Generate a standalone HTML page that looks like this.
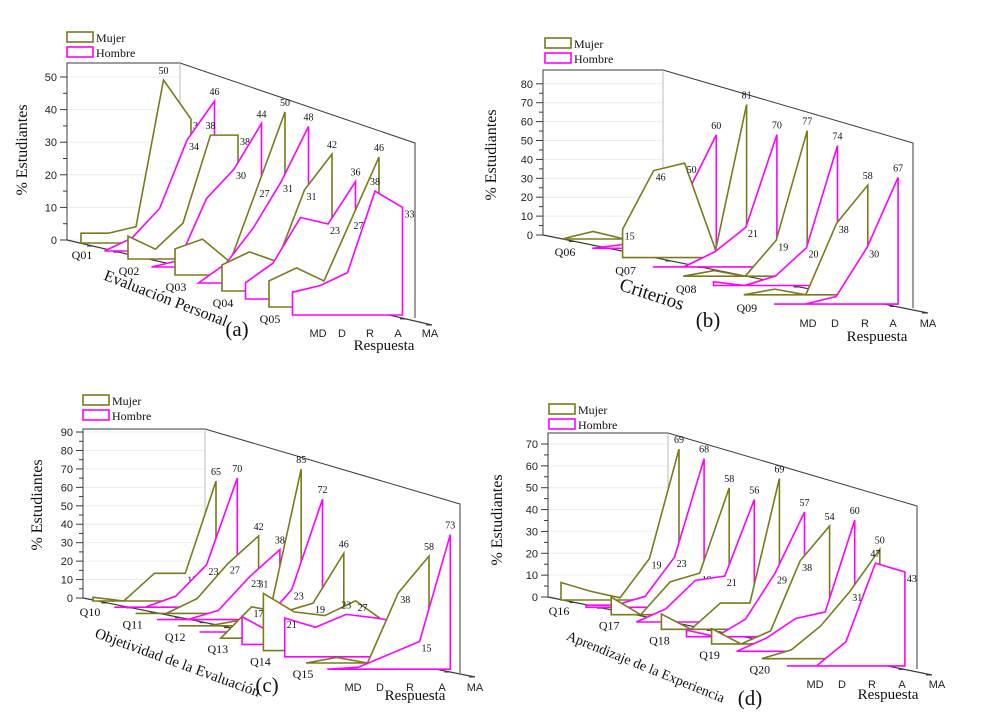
<!DOCTYPE html>
<html><head><meta charset="utf-8"><style>
html,body{margin:0;padding:0;background:#fff}
svg{display:block}
.tk{font-family:"Liberation Sans",sans-serif;font-size:11px;fill:#222}
.sf{font-family:"Liberation Serif",serif;fill:#111}
</style></head><body>
<svg id="c" width="983" height="720" viewBox="0 0 983 720" xmlns="http://www.w3.org/2000/svg"></svg>
<script>
// ---------- Panel (a) data ----------
const aCats=['Q01','Q02','Q03','Q04','Q05'];
const aMujer=[[3,3,5,50,38],[7,3,11,38,38],[8,11,4,27,50],[8,12,9,31,42],[8,12,8,27,46]];
const aHombre=[[0,4,13,34,46],[0,2,21,30,44],[0,6,17,31,48],[5,11,25,23,36],[7,9,13,38,33]];
const aMujerLbl=[[3,4],[3,4],[3,4],[3,4],[3,4]];
const aHombreLbl=[[3,4],[3,4],[3,4],[3,4],[3,4]];
// ---------- Panel (b) data ----------
const bCats=['Q06','Q07','Q08','Q09'];
const bMujer=[[0,4,0,0,0],[15,46,50,4,81],[0,3,0,19,77],[0,3,0,38,58]];
const bHombre=[[0,2,10,27,60],[0,0,8,21,70],[2,0,5,20,74],[0,0,4,30,67]];
const bMujerLbl=[[],[0,1,2,3,4],[3,4],[3,4]];
const bHombreLbl=[[4],[3,4],[3,4],[3,4]];
// ---------- Panel (c) data ----------
const cCats=['Q10','Q11','Q12','Q13','Q14','Q15'];
const cMujer=[[2,0,15,15,65],[0,0,8,27,42],[0,0,3,9,85],[0,17,14,19,46],[31,21,19,27,15],[0,3,0,38,58]];
const cHombre=[[0,0,6,23,70],[0,0,5,23,38],[0,0,4,23,72],[15,6,4,4,4],[21,16,23,21,18],[0,1,8,15,73]];
const cMujerLbl=[[3,4],[3,4],[4],[1,3,4],[0,3],[3,4]];
const cHombreLbl=[[3,4],[3,4],[3,4],[],[0,2],[3,4]];
// ---------- Panel (d) data ----------
const dCats=['Q16','Q17','Q18','Q19','Q20'];
const dMujer=[[8,4,1,19,69],[8,0,15,19,58],[7,0,12,12,69],[7,0,6,38,54],[0,4,15,31,50]];
const dHombre=[[1,1,5,23,68],[0,6,19,21,56],[3,0,8,29,57],[0,6,15,18,60],[0,0,11,47,43]];
const dMujerLbl=[[3,4],[3,4],[3,4],[3,4],[3,4]];
const dHombreLbl=[[3,4],[3,4],[3,4],[3,4],[3,4]];
const resp=['MD','D','R','A','MA'];

const svg=document.getElementById('c');
const NS='http://www.w3.org/2000/svg';
function mk(tag,attrs,parent,text){const e=document.createElementNS(NS,tag);for(const k in attrs)e.setAttribute(k,attrs[k]);if(text!==undefined)e.textContent=text;(parent||svg).appendChild(e);return e;}

const OLIVE='#7a7a1c',MAG='#ff00ff',FR='#3a3a3a';

function panel(id,cats,mujer,hombre,mLbl,hLbl,G){
  const g=mk('g',{});
  
  
  for(let v=0;v<=G.max;v+=G.step){
    const y=G.y0-v*G.k;
    const gl=mk('line',{x1:G.wallX,y1:y,x2:G.topEnd,y2:y,stroke:'#ececec','stroke-width':1},g);
    
    
  }
  const fr=mk('path',{d:`M${G.wallX},${G.y0} L${G.wallX},${G.wallTop} L${G.topEnd},${G.wallTop} L${G.diagEnd[0]},${G.diagEnd[1]} L${G.diagEnd[0]},${G.rightBottom}`,fill:'none',stroke:FR,'stroke-width':1},g);
  
  
  const fr2=mk('line',{x1:G.topEnd,y1:G.wallTop,x2:G.topEnd,y2:G.y0,stroke:'#bbb','stroke-width':1},g);
  
  
  for(let v=0;v<=G.max;v+=G.step){
    const y=G.y0-v*G.k;
    const t=mk('line',{x1:G.wallX-7,y1:y,x2:G.wallX,y2:y,stroke:FR,'stroke-width':1},g);
    
    
    if(v+G.step/2<=G.max){const y2=G.y0-(v+G.step/2)*G.k;
      const m=mk('line',{x1:G.wallX-4,y1:y2,x2:G.wallX,y2:y2,stroke:FR,'stroke-width':1},g);
      
      }
    const tl=mk('text',{x:G.wallX-10,y:y+4,'text-anchor':'end',class:'tk'},g,String(v));
    
    
  }
  const n=cats.length*2;
  const P=(s,r,v)=>[G.p0[0]+s*G.dS[0]+r*G.dR,G.p0[1]+s*G.dS[1]-v*G.k];
  const fa=mk('line',{x1:G.wallX,y1:G.y0,x2:G.floorEnd[0],y2:G.floorEnd[1],stroke:FR,'stroke-width':1.2},g);
  
  
  for(let i=0;i<=n+4;i++){
    const f=i/(n+4);const x=G.wallX+(G.floorEnd[0]-G.wallX)*f,y=G.y0+(G.floorEnd[1]-G.y0)*f;
    const t=mk('line',{x1:x,y1:y,x2:x-6,y2:y,stroke:FR,'stroke-width':1},g);
    
    
  }
  for(let s=0;s<n;s++){
    const q=Math.floor(s/2),isM=s%2===0;
    const vals=isM?mujer[q]:hombre[q];const lbl=isM?mLbl[q]:hLbl[q];
    const pts=[P(s,0,0)];vals.forEach((v,r)=>pts.push(P(s,r,v)));pts.push(P(s,4,0));
    const poly=mk('polygon',{points:pts.map(p=>p.join(',')).join(' '),fill:'#fff',stroke:isM?OLIVE:MAG,'stroke-width':1.6,'stroke-linejoin':'miter'},g);
    
    
    const mx=Math.max(...vals);
    lbl.forEach(r=>{const p=P(s,r,vals[r]);const v=vals[r];const txt=v<10?'0'+v:String(v);
      let t;
      if(v===mx&&r===vals.indexOf(mx)) t=mk('text',{x:p[0],y:p[1]-6,'text-anchor':'middle',class:'sf','font-size':'10'},g,txt);
      else t=mk('text',{x:p[0]+2,y:p[1]+10,'text-anchor':'start',class:'sf','font-size':'10'},g,txt);
      
      
    });
  }
  cats.forEach((c,q)=>{const p=P(2*q,0,0);
    const t=mk('text',{x:p[0]+G.qOff[0],y:p[1]+G.qOff[1]+4,'text-anchor':'middle',class:'sf','font-size':'12'},g,c);
    
    });
  resp.forEach((r,i)=>{const t=mk('text',{x:G.respX[i],y:G.respY,'text-anchor':'middle',class:'tk','font-size':'11'},g,r);
    
    });
  const rt=mk('text',{x:G.respT[0],y:G.respT[1],'text-anchor':'middle',class:'sf','font-size':'15'},g,'Respuesta');
  
  
  const yt=mk('text',{x:0,y:0,'text-anchor':'middle',class:'sf','font-size':'16',transform:`translate(${G.yT[0]},${G.yT[1]}) rotate(-90)`},g,'% Estudiantes');
  
  
  const dt=mk('text',{x:0,y:0,'text-anchor':'middle',class:'sf','font-size':G.dT[3],transform:`translate(${G.dT[0]},${G.dT[1]}) rotate(${G.dT[2]})`},g,G.dTitle);
  
  
  const pl=mk('text',{x:G.pL[0],y:G.pL[1],'text-anchor':'middle',class:'sf','font-size':'21'},g,'('+id+')');
  
  
  [['Mujer',OLIVE],['Hombre',MAG]].forEach((e,i)=>{
    const y=G.leg[1]+i*15;
    const b=mk('rect',{x:G.leg[0],y:y,width:26,height:10,fill:'#fff',stroke:e[1],'stroke-width':1.6},g);
    
    
    const t=mk('text',{x:G.leg[0]+29,y:y+10,class:'sf','font-size':'12'},g,e[0]);
    
    
  });
}

panel('a',aCats,aMujer,aHombre,aMujerLbl,aHombreLbl,{wallX:67,y0:240,k:3.26,max:50,step:10,wallTop:63,topEnd:180,diagEnd:[415,143],rightBottom:318,floorEnd:[432,325],p0:[81,243],dS:[23.5,8],dR:27.5,qOff:[1,12],respX:[318,342,370,398,430],respY:337,respT:[384,350],yT:[27,150],dTitle:'Evaluación Personal',dT:[164,303,21,16],pL:[237,336],leg:[67,32]});
panel('b',bCats,bMujer,bHombre,bMujerLbl,bHombreLbl,{wallX:543,y0:235,k:1.89,max:80,step:10,wallTop:70,topEnd:663,diagEnd:[913,143],rightBottom:308,floorEnd:[928,313],p0:[562,239],dS:[30.3,9.3],dR:31,qOff:[3,13],respX:[808,835,865,893,928],respY:327,respT:[877,341],yT:[496,155],dTitle:'Criterios',dT:[650,300,18,19],pL:[708,327],leg:[545,38]});
panel('c',cCats,cMujer,cHombre,cMujerLbl,cHombreLbl,{wallX:83,y0:598,k:1.844,max:90,step:10,wallTop:429,topEnd:205,diagEnd:[460,504],rightBottom:673,floorEnd:[475,677],p0:[93,601],dS:[21.3,6.2],dR:30.75,qOff:[-3,11],respX:[353,380,410,442,475],respY:691,respT:[415,700],yT:[42,505],dTitle:'Objetividad de la Evaluación',dT:[176,667,20,15],pL:[267,692],leg:[83,395]});
panel('d',dCats,dMujer,dHombre,dMujerLbl,dHombreLbl,{wallX:548,y0:597,k:2.186,max:70,step:10,wallTop:433,topEnd:668,diagEnd:[917,506],rightBottom:669,floorEnd:[932,675],p0:[561,600],dS:[25.1,7.33],dR:29.5,qOff:[-2,11],respX:[815,842,872,902,937],respY:688,respT:[888,699],yT:[502,520],dTitle:'Aprendizaje de la Experiencia',dT:[644,671,22,14],pL:[750,705],leg:[549,404]});
</script>
</body></html>
